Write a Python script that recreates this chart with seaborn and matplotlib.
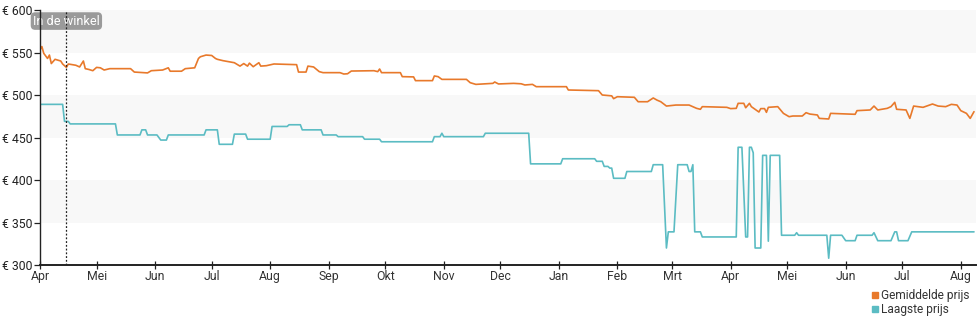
import pandas as pd
import matplotlib
matplotlib.use("Agg")
import matplotlib.pyplot as plt
from matplotlib.lines import Line2D
import seaborn as sns

# Price history, dates given as days since 1 April 2023
start_date = "2023-04-01"

avg_days = [0, 1, 2, 4, 5, 6, 8, 11, 12, 14, 15, 19, 21, 23, 24, 26, 28, 30, 32, 34,
            37, 48, 50, 57, 59, 65, 68, 69, 75, 77, 82, 84, 85, 88, 91, 93, 94, 97, 101, 103,
            106, 108, 110, 111, 113, 116, 117, 120, 124, 136, 137, 141, 142, 145, 148, 150, 159, 161, 163, 165,
            177, 179, 180, 181, 191, 192, 198, 199, 208, 209, 211, 213, 226, 228, 231, 240, 241, 243, 251, 255,
            257, 261, 263, 279, 280, 295, 296, 298, 303, 304, 306, 315, 317, 322, 325, 327, 329, 332, 337, 344,
            348, 350, 351, 364, 366, 369, 370, 373, 374, 376, 377, 381, 382, 384, 385, 386, 391, 394, 397, 399,
            404, 406, 408, 412, 413, 418, 419, 432, 433, 440, 442, 444, 449, 451, 453, 454, 459, 461, 463, 468,
            473, 476, 480, 483, 486, 488, 491, 493, 495]
avg_price = [553, 557, 549, 543, 547, 537, 542, 540, 536.5, 532.5, 536.5, 535, 533, 540, 531, 530, 528.6, 532.5, 532, 529.4,
             531, 531, 527, 526, 528.6, 529.4, 532, 528, 528, 531, 532, 543, 545, 547, 546.5, 543, 542, 540.4, 538.8, 538,
             534, 537, 534, 537.5, 533.3, 538, 534, 534.5, 536.5, 535.7, 527, 527, 534, 533, 527.5, 526.3, 526.3, 524.7, 525, 528.2,
             528.6, 527.5, 530.6, 526.3, 526.3, 521.6, 521.3, 516.9, 516.9, 522.4, 521.6, 518.4, 518.4, 514.5, 512.5, 513.7, 515.3, 513, 513.7, 513.2,
             511.8, 512.5, 509.8, 509.8, 505.9, 505.1, 505.1, 500, 499, 495.7, 498, 497.3, 492.1, 492.1, 496.5, 494, 492.1, 487, 488.2, 488.2,
             484.3, 483.2, 486.3, 485.5, 484, 484.3, 490.2, 490.2, 485, 490.2, 486.3, 480, 484, 484, 479.6, 485.5, 486.3, 478.4, 474.5, 475.3,
             475.3, 479.2, 477.6, 476.5, 472.5, 471.8, 478.4, 477.3, 481.6, 482.4, 487, 482.4, 484.3, 486.3, 491.4, 483.2, 482.4, 472.5, 487, 485.5,
             489.4, 487, 486.3, 489, 488.2, 481.6, 478.4, 472.5, 480.4]

low_days = [0, 12, 13, 15, 16, 40, 41, 53, 54, 56, 57, 62, 64, 67, 68, 87, 88, 94, 95, 102,
            103, 109, 110, 122, 123, 131, 132, 138, 139, 149, 150, 157, 158, 171, 172, 180, 181, 208, 209, 212,
            213, 214, 235, 236, 259, 260, 276, 277, 294, 295, 298, 299, 301, 302, 303, 304, 310, 311, 324, 325,
            330, 332, 333, 336, 338, 343, 344, 345, 346, 347, 350, 351, 369, 370, 372, 374, 375, 376, 377, 378,
            379, 382, 383, 385, 386, 387, 392, 393, 400, 401, 402, 417, 418, 419, 425, 427, 432, 433, 441, 442,
            444, 451, 453, 454, 455, 460, 462, 495]
low_price = [489, 489, 469, 469, 466, 466, 453, 453, 459, 459, 453, 453, 447, 447, 453, 453, 459, 459, 442, 442,
             454, 454, 448, 448, 463, 463, 465, 465, 459, 459, 453, 453, 451, 451, 448, 448, 445, 445, 451, 451,
             455, 451, 451, 455, 455, 419, 419, 425, 425, 422, 422, 416, 416, 414, 414, 402, 402, 410, 410, 418,
             418, 320, 339, 339, 418, 418, 410, 410, 418, 339, 339, 333, 333, 438.5, 438.5, 333, 333, 438.5, 438.5, 432,
             320, 320, 429, 429, 328, 429, 429, 335, 335, 338, 335, 335, 308, 335, 335, 328.6, 328.6, 335, 335, 338,
             328.6, 328.6, 339, 339, 328.6, 328.6, 339, 339]

series_names = ["Gemiddelde prijs", "Laagste prijs"]
series_colors = ["#e8792b", "#5bbcc3"]
month_labels = ["Apr", "Mei", "Jun", "Jul", "Aug", "Sep", "Okt", "Nov", "Dec",
                "Jan", "Feb", "Mrt", "Apr", "Mei", "Jun", "Jul", "Aug"]
price_ticks = [300, 350, 400, 450, 500, 550, 600]
store_date = "2023-04-15"
store_label = "In de winkel"

origin = pd.Timestamp(start_date)
df = pd.concat([
    pd.DataFrame({"datum": origin + pd.to_timedelta(avg_days, unit="D"),
                  "prijs": avg_price, "reeks": series_names[0]}),
    pd.DataFrame({"datum": origin + pd.to_timedelta(low_days, unit="D"),
                  "prijs": low_price, "reeks": series_names[1]}),
], ignore_index=True)

sns.set_style("white")
plt.rcParams["font.family"] = ["Roboto", "DejaVu Sans"]

fig = plt.figure(figsize=(9.8, 3.25), dpi=100)
ax = fig.add_axes([0.0408, 0.1846, 0.955, 0.7846])

# alternating horizontal bands
for lo in price_ticks[1::2]:
    ax.axhspan(lo, lo + 50, color="#f8f8f8", lw=0, zorder=0)

sns.lineplot(data=df, x="datum", y="prijs", hue="reeks", hue_order=series_names,
             palette=series_colors, linewidth=1.2, legend=False, ax=ax,
             estimator=None, sort=False)

store_ts = pd.Timestamp(store_date)
ax.axvline(store_ts, color="#222222", lw=0.9, ls=(0, (1.5, 1.5)), zorder=3)
ax.text(store_ts, 587, store_label, ha="center", va="center", color="white", fontsize=9.2,
        bbox=dict(boxstyle="round,pad=0.18,rounding_size=0.35", fc="#8a8a8a", ec="none", alpha=0.85),
        zorder=1.5, clip_on=False)

month_ticks = pd.date_range(start_date, periods=len(month_labels), freq="MS")
ax.set_xticks(month_ticks)
ax.set_xticklabels(month_labels)
ax.set_xlim(origin, origin + pd.Timedelta(days=496))
ax.set_ylim(price_ticks[0], price_ticks[-1])
ax.set_yticks(price_ticks)
ax.set_yticklabels([f"€ {v}" for v in price_ticks])
ax.set_xlabel("")
ax.set_ylabel("")

for side in ("top", "right"):
    ax.spines[side].set_visible(False)
ax.spines["left"].set_color("#222222")
ax.spines["left"].set_linewidth(1.0)
ax.spines["bottom"].set_color("#222222")
ax.spines["bottom"].set_linewidth(1.4)

ax.tick_params(axis="y", direction="out", length=4, width=0.9, color="#222222",
               labelsize=8.8, labelcolor="#222222", pad=1.5, left=True)
ax.tick_params(axis="x", direction="inout", length=6, width=0.9, color="#222222",
               labelsize=8.8, labelcolor="#333333", pad=0.5, bottom=True)

handles = [Line2D([], [], marker="s", ls="", color=c, markersize=4.5) for c in series_colors]
fig.legend(handles, series_names, loc="lower right", bbox_to_anchor=(0.997, 0.005),
           frameon=False, fontsize=8.6, handlelength=0.6, handletextpad=0.25,
           labelspacing=0.1, borderpad=0.1, labelcolor="#333333")

fig.savefig("out.png", dpi=100)
